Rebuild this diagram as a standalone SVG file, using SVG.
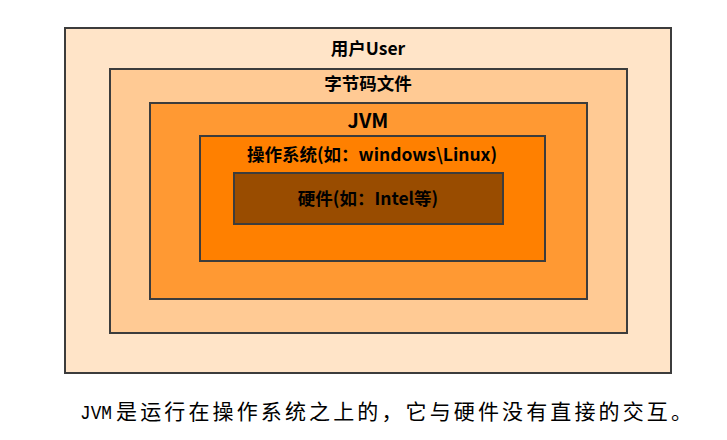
<svg xmlns="http://www.w3.org/2000/svg" width="727" height="440" viewBox="0 0 727 440">
<style>
.box{stroke:#3c3c3c;stroke-width:2}
.lbl{font-family:"Noto Sans CJK SC","Liberation Sans",sans-serif;font-weight:bold;font-size:17.5px;text-anchor:middle;fill:#000}
.cap{font-family:"Liberation Mono","Noto Sans CJK SC",monospace;font-size:21px;fill:#000}
</style>
<rect width="727" height="440" fill="#fff"/>
<g id="user"><rect class="box" x="65" y="28" width="606" height="345" fill="#FFE4C8"/><text class="lbl" x="368" y="55">用户User</text></g>
<g id="bytecode"><rect class="box" x="110" y="69" width="517" height="264" fill="#FFCA94"/><text class="lbl" x="368" y="90">字节码文件</text></g>
<g id="jvm"><rect class="box" x="150" y="103" width="437" height="196" fill="#FF9933"/><text class="lbl" x="368" y="128" style="font-size:20px">JVM</text></g>
<g id="os"><rect class="box" x="200" y="136" width="345" height="125" fill="#FF8000"/><text class="lbl" x="372" y="161">操作系统(如：windows\Linux)</text></g>
<g id="hardware"><rect class="box" x="234" y="173" width="269" height="51" fill="#994C00"/><text class="lbl" x="368" y="205">硬件(如：Intel等)</text></g>
<g id="connectors"/>
<text class="cap" y="419"><tspan x="80" textLength="32" lengthAdjust="spacingAndGlyphs">JVM</tspan><tspan x="116" textLength="576" lengthAdjust="spacing">是运行在操作系统之上的，它与硬件没有直接的交互。</tspan></text>
</svg>
